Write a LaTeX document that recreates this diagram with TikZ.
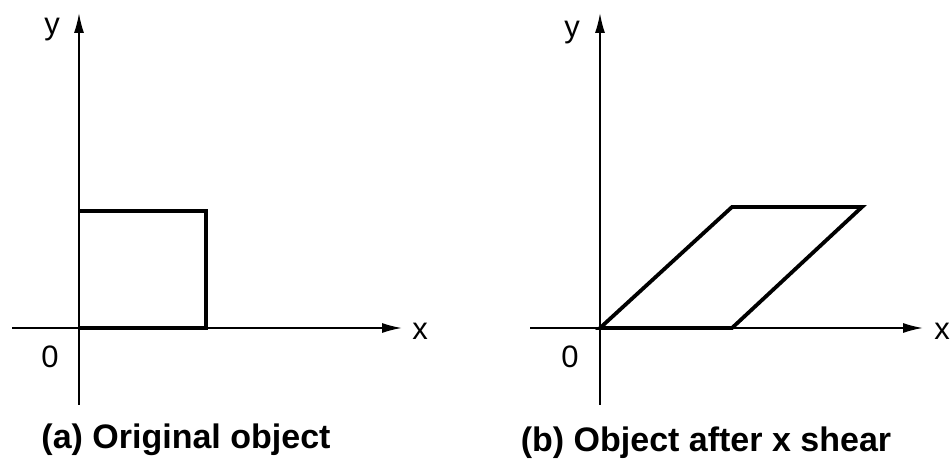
\documentclass[tikz,border=0pt]{standalone}
\usepackage{fontspec}
\setmainfont{Liberation Sans}
\usetikzlibrary{arrows.meta,positioning}

\begin{document}
\begin{tikzpicture}[
  x=1pt, y=-1pt,
  axis/.style={line width=1.6pt, -{Latex[length=20pt,width=10pt]}},
  obj/.style={line width=3.8pt, line join=miter},
  lbl/.style={font=\fontsize{31}{31}\selectfont, inner sep=0pt},
  caption/.style={font=\fontsize{34}{34}\selectfont\bfseries, inner sep=0pt}
]
\useasboundingbox (0,0) rectangle (951,462);

% (a) original object
\coordinate (oa) at (79,328);
\coordinate (ya0) at (79,405);
\coordinate (ya1) at (79,13);
\coordinate (xa0) at (12,328);
\coordinate (xa1) at (402,328);
\draw[axis] (ya0) -- (ya1);
\draw[axis] (xa0) -- (xa1);
\coordinate (sqa) at (79,211);
\coordinate (sqb) at (206,211);
\coordinate (sqc) at (206,328);
\draw[obj] (sqa) -- (sqb) -- (sqc) -- (oa);
\node[lbl] (ylaba) at (52,30) {y};
\node[lbl] (xlaba) at (420,331) {x};
\node[lbl] (zeroa) at (50,357) {0};
\node[caption] (capa) at (186,440) {(a) Original object};

% (b) after x shear
\coordinate (ob) at (600,328);
\coordinate (yb0) at (600,405);
\coordinate (yb1) at (600,13);
\coordinate (xb0) at (530,328);
\coordinate (xb1) at (923,328);
\draw[axis] (yb0) -- (yb1);
\draw[axis] (xb0) -- (xb1);
\coordinate (pa) at (732,328);
\coordinate (pb) at (862,207);
\coordinate (pc) at (732,207);
\draw[obj] (ob) -- (pa) -- (pb) -- (pc) -- cycle;
\node[lbl] (ylabb) at (572,33) {y};
\node[lbl] (xlabb) at (942,331) {x};
\node[lbl] (zerob) at (570,357) {0};
\node[caption] (capb) at (706,443) {(b) Object after x shear};
\end{tikzpicture}
\end{document}
